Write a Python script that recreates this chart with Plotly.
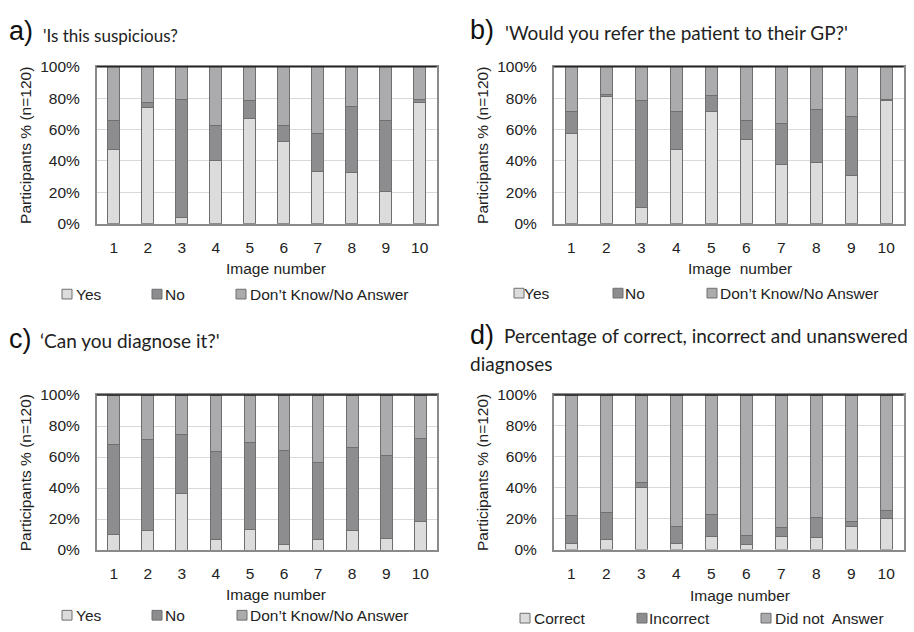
import plotly.graph_objects as go

W, H = 914, 632

images = [1, 2, 3, 4, 5, 6, 7, 8, 9, 10]
tick_vals = [0, 20, 40, 60, 80, 100]
tick_text = ["0%", "20%", "40%", "60%", "80%", "100%"]

# a) 'Is this suspicious?'
a_yes = [47, 74, 4, 40, 67, 52.5, 33.5, 32.5, 20.8, 77]
a_no = [18.5, 3.5, 75, 22.5, 11.3, 10, 24, 42.3, 44.7, 2]
# b) 'Would you refer the patient to their GP?'
b_yes = [57.5, 80.8, 10.5, 47.5, 71.5, 53.8, 38, 38.7, 30.7, 78.3]
b_no = [14, 1.8, 67.8, 24, 10, 11.7, 26, 33.8, 37.7, 1]
# c) 'Can you diagnose it?'
c_yes = [10, 12.5, 36.7, 6.7, 13.3, 3.3, 6.7, 12.5, 7.5, 18.3]
c_no = [58.3, 59, 37.6, 56.9, 55.9, 61, 50, 53.6, 53.4, 53.5]
# d) correct / incorrect / unanswered
d_correct = [4.2, 6.7, 40, 4.2, 8.3, 3.3, 8.3, 7.5, 15, 20]
d_incorrect = [18, 17.5, 3.3, 10.8, 14.2, 5.8, 5.8, 13.3, 3.3, 5]


def rest(p, q):
    return [round(100 - x - y, 2) for x, y in zip(p, q)]


abc_names = ["Yes", "No", "Don\u2019t Know/No Answer"]
d_names = ["Correct", "Incorrect", "Did not\u00a0 Answer"]

C_LIGHT = "#dcdcdd"
C_DARK = "#8d8d8f"
C_MID = "#ababad"
C_EDGE = "#6f6f6f"
colors = [C_LIGHT, C_DARK, C_MID]

TICK_FONT = dict(family="Liberation Sans, Arial, sans-serif", size=15.5, color="#222")


def title_font(size):
    return dict(family="Lato, Open Sans, sans-serif", size=size, color="#222")


def px_x(x):
    return x / W


def px_y(y):
    return 1 - y / H


panels = [
    ([a_yes, a_no, rest(a_yes, a_no)], abc_names, (96.7, 436.7), (59.3, 220.7)),
    ([b_yes, b_no, rest(b_yes, b_no)], abc_names, (553.7, 903.7), (59.3, 220.7)),
    ([c_yes, c_no, rest(c_yes, c_no)], abc_names, (96.7, 437.3), (396.7, 556.0)),
    ([d_correct, d_incorrect, rest(d_correct, d_incorrect)], d_names, (553.7, 903.7), (396.7, 555.5)),
]

fig = go.Figure()
layout = dict(
    width=W, height=H,
    margin=dict(l=0, r=0, t=0, b=0),
    paper_bgcolor="white", plot_bgcolor="white",
    barmode="stack", bargap=0.655,
    showlegend=False,
    annotations=[], shapes=[],
)

for i, (series, names, (x0, x1), (y0, y1)) in enumerate(panels):
    k = "" if i == 0 else str(i + 1)
    xa, ya = "x" + k, "y" + k
    for s, name, col in zip(series, names, colors):
        fig.add_trace(go.Bar(
            x=images, y=s, name=name, xaxis=xa, yaxis=ya,
            marker=dict(color=col, line=dict(color=C_EDGE, width=1)),
            showlegend=False,
        ))
    layout["xaxis" + k] = dict(
        domain=[px_x(x0), px_x(x1)], anchor=ya, range=[0.5, 10.5],
        tickmode="array", tickvals=images, ticktext=[str(v) for v in images],
        tickfont=TICK_FONT, showgrid=False, zeroline=False,
        showline=True, linecolor="#8a8a8a", linewidth=1.5, mirror=True,
        ticks="", ticklabelstandoff=9, fixedrange=True,
    )
    layout["yaxis" + k] = dict(
        domain=[px_y(y1), px_y(y0)], anchor=xa, range=[0, 100],
        tickmode="array", tickvals=tick_vals, ticktext=tick_text,
        tickfont=TICK_FONT, showgrid=True, gridcolor="#d9d9d9", gridwidth=1,
        zeroline=False, showline=True, linecolor="#8a8a8a", linewidth=1.5,
        mirror=True, ticks="", ticklabelstandoff=12, fixedrange=True,
    )
    layout["shapes"].append(dict(
        type="line", xref=xa + " domain", yref=ya + " domain",
        x0=0, x1=1, y0=1, y1=1, line=dict(color="#222", width=1.5),
    ))
    layout["annotations"].append(dict(
        text="Participants % (n=120)", textangle=-90,
        x=px_x(x0 - 71), y=px_y((y0 + y1) / 2), xref="paper", yref="paper",
        showarrow=False, font=TICK_FONT, xanchor="center", yanchor="middle",
    ))

for txt, cx, cy in [("Image number", 276, 267), ("Image\u00a0 number", 740, 267),
                    ("Image number", 276, 602), ("Image number", 740, 603)]:
    layout["annotations"].append(dict(
        text=txt, x=px_x(cx), y=px_y(cy), xref="paper", yref="paper",
        showarrow=False, font=TICK_FONT, xanchor="center", yanchor="middle",
    ))

titles = [
    ("a)", 7, 23, "'Is this suspicious?", 41, 27, 17),
    ("b)", 468, 22, "'Would you refer the patient to their GP?'", 503, 24, 19),
    ("c)", 7, 339, "\u2018Can you diagnose it?'", 38, 341, 19),
    ("d)", 468, 335, "Percentage of correct, incorrect and unanswered", 502, 336, 19),
]
for lab, lx, ly, txt, tx, ty, fs in titles:
    layout["annotations"].append(dict(
        text=lab, x=px_x(lx), y=px_y(ly), xref="paper", yref="paper",
        showarrow=False, xanchor="left", yanchor="middle",
        font=dict(family="Liberation Sans, Arial, sans-serif", size=27, color="#111"),
    ))
    layout["annotations"].append(dict(
        text=txt, x=px_x(tx), y=px_y(ty), xref="paper", yref="paper",
        showarrow=False, xanchor="left", yanchor="middle", font=title_font(fs),
    ))
layout["annotations"].append(dict(
    text="diagnoses", x=px_x(468), y=px_y(364), xref="paper", yref="paper",
    showarrow=False, xanchor="left", yanchor="middle", font=title_font(19),
))

legends = [
    (abc_names, 293, [(62, 76), (152, 165), (236, 250)]),
    (abc_names, 292, [(514, 524), (613, 625), (707, 720)]),
    (abc_names, 623, [(62, 76), (152, 165), (237, 250)]),
    (d_names, 626, [(520, 534), (637, 649), (761, 775)]),
]
for names, ly, pos in legends:
    for name, col, (sx, tx) in zip(names, colors, pos):
        layout["shapes"].append(dict(
            type="rect", xref="paper", yref="paper",
            x0=px_x(sx), x1=px_x(sx + 10), y0=px_y(ly + 5), y1=px_y(ly - 5),
            fillcolor=col, line=dict(color=C_EDGE, width=1),
        ))
        layout["annotations"].append(dict(
            text=name, x=px_x(tx - 2), y=px_y(ly), xref="paper", yref="paper",
            showarrow=False, xanchor="left", yanchor="middle", font=TICK_FONT,
        ))

fig.update_layout(**layout)
fig.write_html(
    "out.html",
    config={"displayModeBar": False},
    post_script="document.body.style.margin='0';document.body.style.padding='0';",
)
